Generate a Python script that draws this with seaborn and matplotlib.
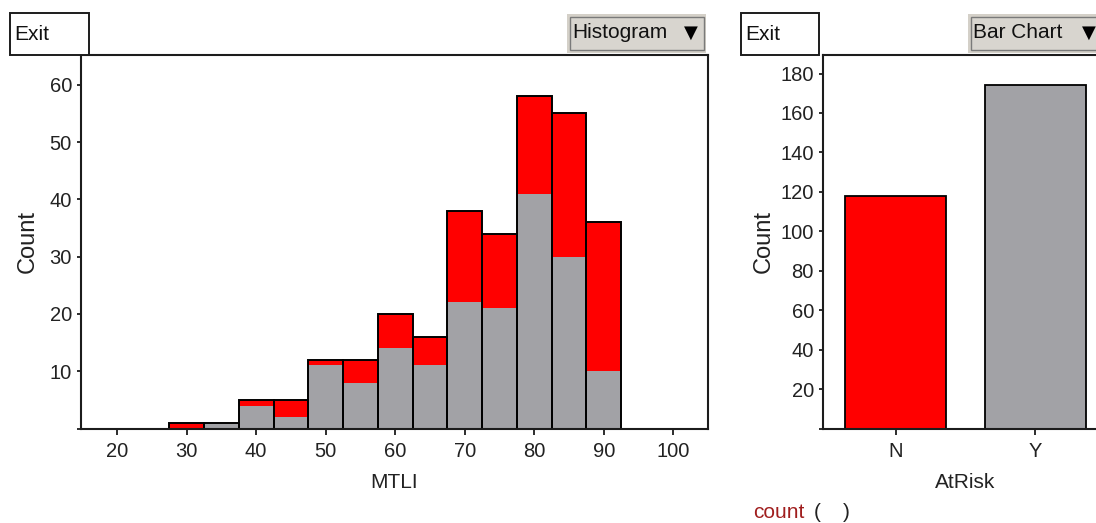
import numpy as np
import pandas as pd
import matplotlib
matplotlib.use("Agg")
import matplotlib.pyplot as plt
from matplotlib.patches import Rectangle
import seaborn as sns

# histogram of MTLI, 5-wide bins centred on 30 .. 90, split by AtRisk
mtli_centers = [30, 35, 40, 45, 50, 55, 60, 65, 70, 75, 80, 85, 90]
count_n = [1, 0, 1, 3, 1, 4, 6, 5, 16, 13, 17, 25, 26]
count_y = [0, 1, 4, 2, 11, 8, 14, 11, 22, 21, 41, 30, 10]

# bar chart of AtRisk
atrisk_levels = ["N", "Y"]
atrisk_counts = [118, 174]

hist_xticks = [20, 30, 40, 50, 60, 70, 80, 90, 100]
hist_yticks = [0, 10, 20, 30, 40, 50, 60]
bar_yticks = [0, 20, 40, 60, 80, 100, 120, 140, 160, 180]

RED = "#ff0000"
GRAY = "#a2a2a6"
INK = "#1c1c1c"
W, H = 1096, 523

sns.set_theme(style="white")
plt.rcParams["font.family"] = ["Liberation Sans", "DejaVu Sans"]

hist_df = pd.DataFrame({
    "MTLI": mtli_centers * 2,
    "AtRisk": ["N"] * len(mtli_centers) + ["Y"] * len(mtli_centers),
    "n": count_n + count_y,
})
totals = [a + b for a, b in zip(count_n, count_y)]
edges = [27.5 + 5 * i for i in range(len(mtli_centers) + 1)]


def fx(px):
    return px / W


def fy(py):
    return 1 - py / H


fig = plt.figure(figsize=(W / 100, H / 100), dpi=100)
fig.patch.set_facecolor("white")

# axes placed in pixel terms of the reference
ax1 = fig.add_axes([fx(81), fy(428.5), fx(708) - fx(81), fy(55) - fy(428.5)])
ax2 = fig.add_axes([fx(823), fy(428.5), fx(1108) - fx(823), fy(55) - fy(428.5)])

# --- histogram ---
sns.histplot(data=hist_df, x="MTLI", weights="n", hue="AtRisk",
             hue_order=["N", "Y"], palette={"N": RED, "Y": GRAY},
             multiple="stack", bins=edges, alpha=1, linewidth=0,
             legend=False, ax=ax1)
sns.histplot(x=mtli_centers, weights=totals, bins=edges, fill=False,
             color="black", linewidth=1.4, ax=ax1)
ax1.set_xlim(14.8, 105.0)
ax1.set_ylim(0, 65.2)
ax1.set_xticks(hist_xticks)
ax1.set_xticklabels([str(v) for v in hist_xticks])
ax1.set_yticks(hist_yticks)
ax1.set_yticklabels([""] + [str(v) for v in hist_yticks[1:]])
ax1.set_xlabel("MTLI", fontsize=15)
ax1.set_ylabel("Count", fontsize=17)
ax1.xaxis.set_label_coords(0.5, -0.118)
ax1.yaxis.set_label_coords(-0.067, 0.5)

# --- bar chart ---
sns.barplot(x=atrisk_levels, y=atrisk_counts, hue=atrisk_levels,
            palette=[RED, GRAY], width=0.725, edgecolor="black",
            linewidth=1.3, saturation=1, legend=False, ax=ax2)
ax2.set_xlim(-0.523, 1.523)
ax2.set_ylim(0, 189.4)
ax2.set_yticks(bar_yticks)
ax2.set_yticklabels([""] + [str(v) for v in bar_yticks[1:]])
ax2.set_xlabel("AtRisk", fontsize=15)
ax2.set_ylabel("Count", fontsize=17)
ax2.xaxis.set_label_coords(0.5, -0.118)
ax2.yaxis.set_label_coords(-0.17, 0.5)

for ax in (ax1, ax2):
    for sp in ax.spines.values():
        sp.set_visible(True)
        sp.set_color(INK)
        sp.set_linewidth(1.5)
    ax.tick_params(axis="x", bottom=True, length=4.5, width=1.3, pad=5,
                   color=INK, labelsize=14.5, labelcolor="#222222")
    ax.tick_params(axis="y", left=True, length=3, width=1.3, pad=3.5,
                   color=INK, labelsize=14.5, labelcolor="#222222")
    ax.grid(False)
    ax.xaxis.label.set_color("#222222")
    ax.yaxis.label.set_color("#222222")


# --- widget chrome: Exit buttons and dropdowns ---
def exit_box(x0, x1):
    fig.add_artist(Rectangle((fx(x0), fy(55)), fx(x1) - fx(x0), fy(13) - fy(55),
                             transform=fig.transFigure, facecolor="white",
                             edgecolor=INK, linewidth=1.4))
    fig.text(fx(x0 + 4), fy(35), "Exit", fontsize=15, ha="left", va="center",
             color="#111111")


def dropdown(x0, x1, label):
    fig.add_artist(Rectangle((fx(x0), fy(53)), fx(x1) - fx(x0), fy(14) - fy(53),
                             transform=fig.transFigure, facecolor="#d4d0c8",
                             edgecolor="#d4d0c8", linewidth=0))
    fig.add_artist(Rectangle((fx(x0 + 3), fy(50)), fx(x1 - 2) - fx(x0 + 3), fy(17) - fy(50),
                             transform=fig.transFigure, facecolor="#d8d5cf",
                             edgecolor="#7a7a7a", linewidth=1.0))
    fig.text(fx(x0 + 5), fy(33), label, fontsize=15, ha="left", va="center",
             color="#111111")


exit_box(10, 89)
exit_box(741, 819)
dropdown(567, 706, "Histogram")
fig.text(fx(691), fy(33), "\u25bc", fontsize=13, ha="center", va="center",
         color="black", family="DejaVu Sans")
dropdown(968, 1110, "Bar Chart")
fig.text(fx(1089), fy(33), "\u25bc", fontsize=13, ha="center", va="center",
         color="black", family="DejaVu Sans")

fig.text(fx(753), fy(513), "count", fontsize=15, ha="left", va="center",
         color="#a01e1e")
fig.text(fx(814), fy(513), "(", fontsize=15, ha="left", va="center", color="#222222")
fig.text(fx(843), fy(513), ")", fontsize=15, ha="left", va="center", color="#222222")

fig.savefig("out.png", dpi=100, facecolor="white")
